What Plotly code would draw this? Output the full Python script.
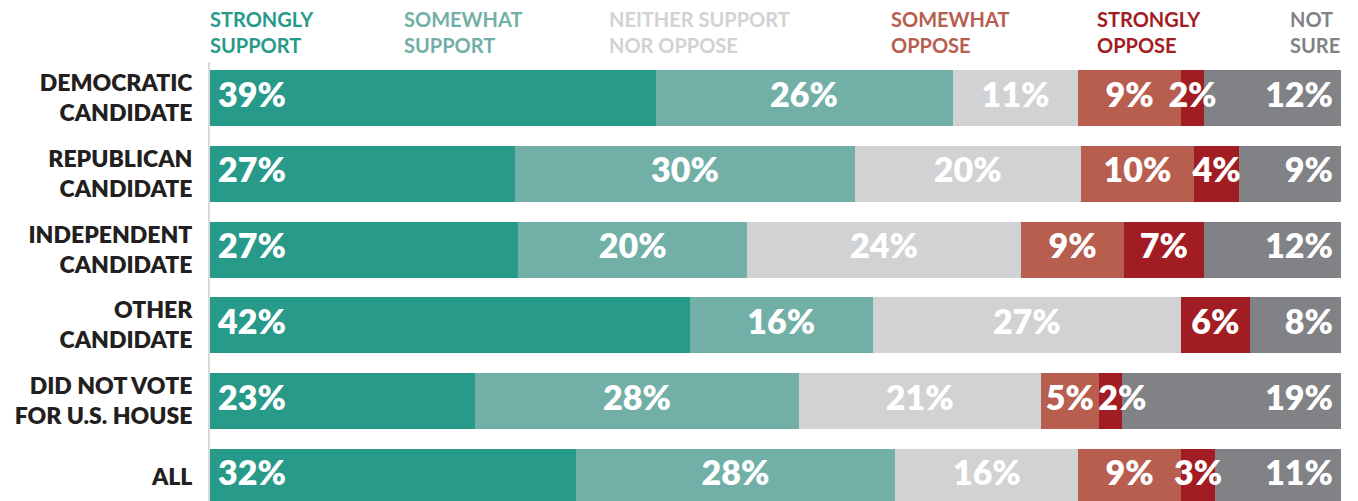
import numpy as np
import plotly.graph_objects as go

# Survey groups (top to bottom) and response categories (left to right)
groups = [
    "DEMOCRATIC<br>CANDIDATE",
    "REPUBLICAN<br>CANDIDATE",
    "INDEPENDENT<br>CANDIDATE",
    "OTHER<br>CANDIDATE",
    "DID NOT VOTE<br>FOR U.S. HOUSE",
    "ALL",
]
responses = [
    "STRONGLY<br>SUPPORT",
    "SOMEWHAT<br>SUPPORT",
    "NEITHER SUPPORT<br>NOR OPPOSE",
    "SOMEWHAT<br>OPPOSE",
    "STRONGLY<br>OPPOSE",
    "NOT<br>SURE",
]

strongly_support = [39, 27, 27, 42, 23, 32]
somewhat_support = [26, 30, 20, 16, 28, 28]
neither = [11, 20, 24, 27, 21, 16]
somewhat_oppose = [9, 10, 9, 0, 5, 9]
strongly_oppose = [2, 4, 7, 6, 2, 3]
not_sure = [12, 9, 12, 8, 19, 11]

series = [strongly_support, somewhat_support, neither,
          somewhat_oppose, strongly_oppose, not_sure]
colors = ["#289a8a", "#72b0a7", "#d1d2d4", "#b85e4f", "#a11d23", "#818285"]
legend_x_px = [210, 404, 609, 891, 1097, 1290]

FONT = "Lato"
LABEL_SIZE = 34
W, H = 1358, 501
L, R, T, B = 210, 17, 62, 0
plot_w = W - L - R
px_to_x = 100 / plot_w


def label_width(s):
    """Rough rendered width (data units) of a bold value label."""
    em = sum(0.85 if ch == "%" else 0.58 for ch in s)
    return em * LABEL_SIZE * px_to_x


ypos = np.arange(len(groups))

fig = go.Figure()
for name, vals, col in zip(responses, series, colors):
    fig.add_trace(go.Bar(
        x=vals, y=ypos, orientation="h", width=0.74,
        marker=dict(color=col, line=dict(width=0)),
        name=name.replace("<br>", " "), showlegend=False, hoverinfo="skip",
    ))

# Value labels, placed on the normalised (row sums to 100) stacks
vals = np.array(series, dtype=float)          # shape (responses, groups)
shares = vals / vals.sum(axis=0) * 100
ends = np.cumsum(shares, axis=0)
starts = ends - shares
pad = 8 * px_to_x
gap = 4 * px_to_x
lx, ly, lt, lp = [], [], [], []
n = len(series)
for g in range(len(groups)):
    prev_right = None
    for k in range(n):
        if vals[k, g] <= 0:
            continue
        txt = f"{int(vals[k, g])}%"
        w = label_width(txt)
        if k == 0:
            x, pos = starts[k, g] + pad, "middle right"
            prev_right = x + w
        elif k == n - 1:
            x, pos = ends[k, g] - pad, "middle left"
        else:
            x, pos = (starts[k, g] + ends[k, g]) / 2, "middle center"
            # nudge a crowded label right so it clears its neighbour
            if prev_right is not None and x - w / 2 < prev_right + gap:
                x = prev_right + gap + w / 2
            prev_right = x + w / 2
        lx.append(x); ly.append(g); lt.append(txt); lp.append(pos)

fig.add_trace(go.Scatter(
    x=lx, y=ly, text=lt, mode="text", textposition=lp,
    textfont=dict(family=FONT, size=LABEL_SIZE, color="white", weight=800),
    showlegend=False, hoverinfo="skip", cliponaxis=False,
))

# Response legend as coloured headings above the bars
for name, col, px in zip(responses, colors, legend_x_px):
    fig.add_annotation(
        x=(px - L) / plot_w, xref="paper", xanchor="left", xshift=-2,
        y=1, yref="paper", yanchor="bottom", yshift=3,
        text=name, showarrow=False, align="left",
        font=dict(family=FONT, size=20, color=col, weight=700),
    )

fig.update_layout(
    width=W, height=H,
    margin=dict(l=L, r=R, t=T, b=B, pad=0),
    barmode="stack", barnorm="percent",
    plot_bgcolor="white", paper_bgcolor="white",
    xaxis=dict(range=[0, 100], visible=False, fixedrange=True),
    yaxis=dict(
        range=[5.317, -0.475], tickvals=ypos, ticktext=groups,
        showline=True, linecolor="#d9d9d9", linewidth=2,
        showgrid=False, zeroline=False, ticks="", ticklabelstandoff=11,
        tickfont=dict(family=FONT, size=23, color="#231f20", weight=800),
    ),
)

fig.write_html("out.html")
